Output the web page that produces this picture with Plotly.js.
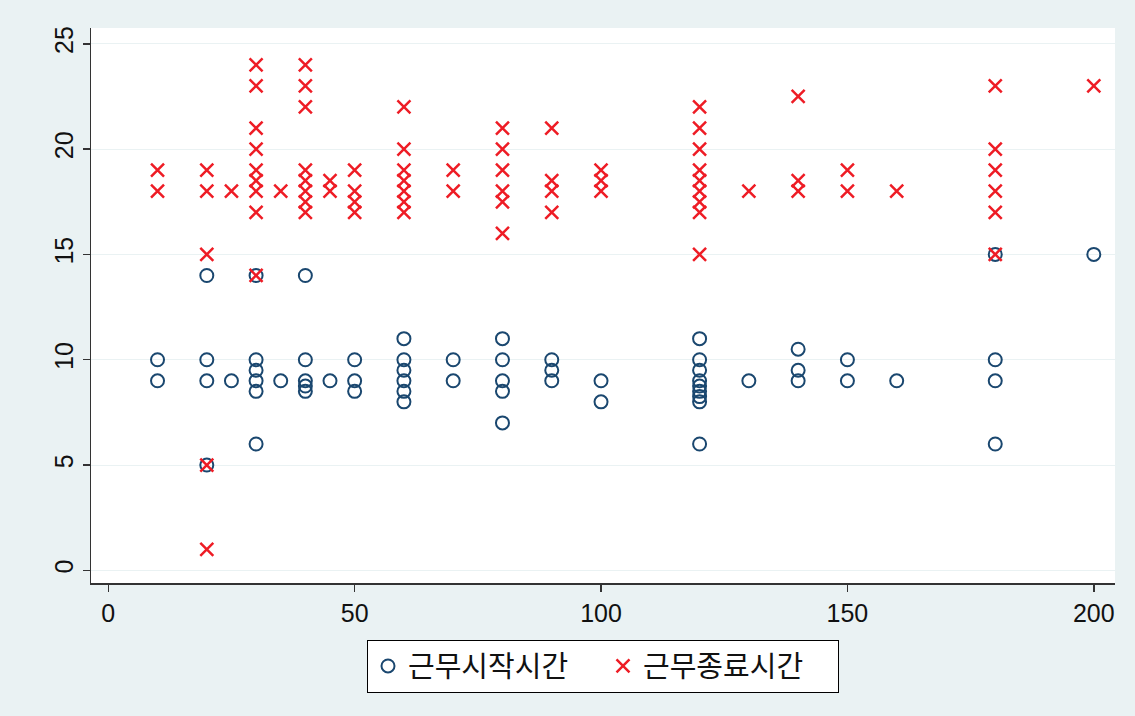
<!DOCTYPE html>
<html>
<head>
<meta charset="utf-8">
<script src="https://cdn.plot.ly/plotly-3.0.1.min.js"></script>
<style>
html,body{margin:0;padding:0;background:#EAF2F3;}
#chart{width:1135px;height:716px;}
</style>
</head>
<body>
<div id="chart"></div>
<script>
// 근무시작시간 (start time) points
const startX = [10,10, 20,20,20,20, 25, 30,30,30,30,30,30, 35, 40,40,40,40,40, 45, 50,50,50,
  60,60,60,60,60,60, 70,70, 80,80,80,80,80, 90,90,90, 100,100,
  120,120,120,120,120,120,120,120,120, 130, 140,140,140, 150,150, 160, 180,180,180,180, 200];
const startY = [10,9, 14,10,9,5, 9, 14,10,9.5,9,8.5,6, 9, 14,10,9,8.75,8.5, 9, 10,9,8.5,
  11,10,9.5,9,8.5,8, 10,9, 11,10,9,8.5,7, 10,9.5,9, 9,8,
  11,10,9.5,9,8.75,8.5,8.25,8,6, 9, 10.5,9.5,9, 10,9, 9, 15,10,9,6, 15];

// 근무종료시간 (end time) points
const endX = [10,10, 20,20,20,20,20, 25, 30,30,30,30,30,30,30,30,30, 35, 40,40,40,40,40,40,40,40,
  45,45, 50,50,50,50, 60,60,60,60,60,60,60, 70,70, 80,80,80,80,80,80, 90,90,90,90, 100,100,100,
  120,120,120,120,120,120,120,120,120, 130, 140,140,140, 150,150, 160, 180,180,180,180,180,180, 200];
const endY = [19,18, 19,18,15,5,1, 18, 24,23,21,20,19,18.5,18,17,14, 18, 24,23,22,19,18.5,18,17.5,17,
  18.5,18, 19,18,17.5,17, 22,20,19,18.5,18,17.5,17, 19,18, 21,20,19,18,17.5,16, 21,18.5,18,17, 19,18.5,18,
  22,21,20,19,18.5,18,17.5,17,15, 18, 22.5,18.5,18, 19,18, 18, 23,20,19,18,17,15, 23];

const seriesNames = ['근무시작시간', '근무종료시간'];
const xTicks = [0, 50, 100, 150, 200];
const yTicks = [0, 5, 10, 15, 20, 25];

const tickFont = {family: 'Liberation Sans, Arial, sans-serif', size: 25, color: '#111'};

const traces = [
  {
    x: startX, y: startY, type: 'scatter', mode: 'markers', name: seriesNames[0],
    marker: {symbol: 'circle-open', size: 13, color: '#1A476F', line: {width: 2, color: '#1A476F'}}
  },
  {
    x: endX, y: endY, type: 'scatter', mode: 'markers', name: seriesNames[1],
    marker: {symbol: 'x-thin-open', size: 13, color: '#EE1C25', line: {width: 2.5, color: '#EE1C25'}}
  }
];

const layout = {
  width: 1135, height: 716,
  paper_bgcolor: '#EAF2F3',
  plot_bgcolor: '#FFFFFF',
  margin: {l: 91, r: 20, t: 28, b: 133},
  showlegend: true,
  xaxis: {
    range: [-3.5, 204.3], tickvals: xTicks, ticktext: xTicks.map(String),
    showgrid: false, zeroline: false, showline: true, linecolor: '#333', linewidth: 1.5,
    ticks: 'outside', ticklen: 7, tickcolor: '#333', tickwidth: 1.5,
    tickfont: tickFont
  },
  yaxis: {
    range: [-0.6, 25.75], tickvals: yTicks, ticktext: yTicks.map(String),
    showgrid: true, gridcolor: '#EAF2F3', gridwidth: 1, zeroline: false,
    showline: true, linecolor: '#333', linewidth: 1.5,
    ticks: 'outside', ticklen: 7, tickcolor: '#333', tickwidth: 1.5,
    tickangle: -90, tickfont: tickFont
  },
  legend: {
    orientation: 'h', x: 0.5, xanchor: 'center', y: -0.102, yanchor: 'top',
    bgcolor: '#FFFFFF', bordercolor: '#000', borderwidth: 1,
    font: {family: 'Noto Sans CJK KR, sans-serif', size: 29, color: '#111'},
    itemwidth: 30, entrywidth: 190
  }
};

Plotly.newPlot('chart', traces, layout, {displayModeBar: false, staticPlot: true});
</script>
</body>
</html>
